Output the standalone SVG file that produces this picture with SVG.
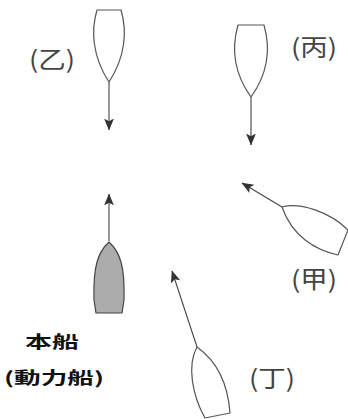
<svg xmlns="http://www.w3.org/2000/svg" width="348" height="419" viewBox="0 0 348 419">
<style>
.hull{fill:#fff;stroke:#555;stroke-width:1.2;stroke-linejoin:round}
.own{fill:#acacac;stroke:#444;stroke-width:1.2;stroke-linejoin:round}
.course{stroke:#444;stroke-width:1.1;fill:none;marker-end:url(#ah)}
.lbl{font-family:"Noto Sans CJK TC","Noto Sans CJK SC",sans-serif;font-size:24px;fill:#444}
.own-lbl{font-family:"Noto Sans CJK TC","Noto Sans CJK SC",sans-serif;font-size:17px;font-weight:bold;fill:#111}
</style>
<defs>
<marker id="ah" markerUnits="userSpaceOnUse" markerWidth="12" markerHeight="12" viewBox="0 0 11 10" refX="10.5" refY="5" orient="auto">
<path d="M0,0.5 L11,5 L0,9.5 L2.5,5 Z" fill="#333"/>
</marker>
</defs>
<rect width="348" height="419" fill="#fff"/>
<g id="connectors">
<path class="course" d="M109,82 L109,130"/>
<path class="course" d="M251,97 L251,145"/>
<path class="course" d="M109,241 L109,194"/>
<path class="course" d="M282,207 L242,183"/>
<path class="course" d="M197,347 L172,271"/>
</g>
<g id="boat-yi">
<path class="hull" d="M97,10 L121,10 C127,30 126,56 109,82 C92,56 91,30 97,10 Z"/>
<text class="lbl" x="29" y="68" textLength="46" lengthAdjust="spacingAndGlyphs">(乙)</text>
</g>
<g id="boat-bing">
<path class="hull" d="M238,25 L264,25 C270,46 269,72 251,97 C233,72 232,46 238,25 Z"/>
<text class="lbl" x="291" y="56" textLength="46" lengthAdjust="spacingAndGlyphs">(丙)</text>
</g>
<g id="boat-own">
<path class="own" d="M109,242 C120,252 125,266 124,300 L122,313 L96,313 L94,300 C93,266 98,252 109,242 Z"/>
<text class="own-lbl" x="25" y="348" textLength="54" lengthAdjust="spacingAndGlyphs">本船</text>
<text class="own-lbl" x="4" y="384" textLength="100" lengthAdjust="spacingAndGlyphs">(動力船)</text>
</g>
<g id="boat-jia">
<path class="hull" d="M282,207 C300,202 330,212 348,230 L338,255 C315,250 292,236 282,207 Z"/>
<text class="lbl" x="291" y="288" textLength="46" lengthAdjust="spacingAndGlyphs">(甲)</text>
</g>
<g id="boat-ding">
<path class="hull" d="M197,347 C187,365 192,395 205,418 L230,413 C228,385 218,362 197,347 Z"/>
<text class="lbl" x="249" y="387" textLength="46" lengthAdjust="spacingAndGlyphs">(丁)</text>
</g>
</svg>
